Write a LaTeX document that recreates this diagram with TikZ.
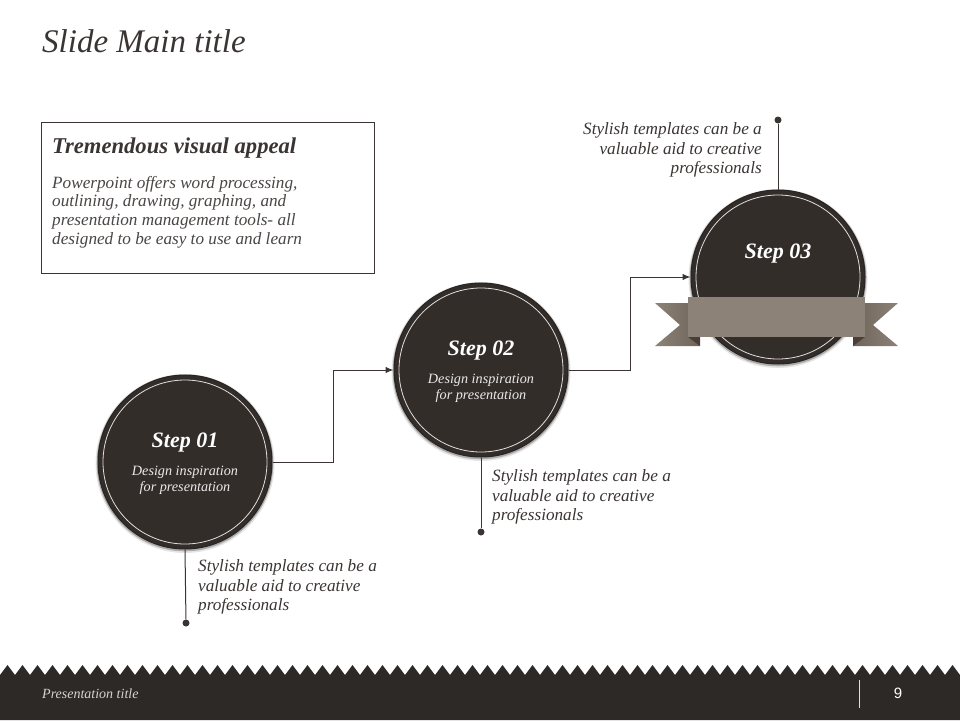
\documentclass[tikz,border=0pt]{standalone}
\usepackage{fontspec}
\setmainfont{Liberation Serif}
\newfontfamily\arialfont{Liberation Sans}
\usetikzlibrary{arrows.meta,calc}
\definecolor{disk}{HTML}{332D2A}
\definecolor{ink}{HTML}{3A3533}
\definecolor{bodyink}{HTML}{4A4644}
\definecolor{ribbon}{HTML}{8C8277}
\definecolor{ribbondark}{HTML}{6E6459}
\definecolor{fold}{HTML}{4A3F38}
\definecolor{footbg}{HTML}{2D2927}
\tikzset{
  disknode/.style={circle, fill=disk, draw=disk!80!black, line width=1pt, minimum size=174pt, inner sep=0pt},
  ring/.style={draw=white!85!disk, line width=0.8pt},
  steptitle/.style={text=white, font=\fontsize{22}{24}\selectfont\bfseries\itshape, inner sep=0pt},
  stepsub/.style={text=white!90!disk, font=\fontsize{14.2}{16}\selectfont\itshape, align=center, inner sep=0pt},
  callout/.style={text=ink, font=\fontsize{17.2}{19.5}\selectfont\itshape, inner sep=0pt},
  conn/.style={draw=ink, line width=1pt},
  arr/.style={conn, -{Latex[length=8pt,width=6.5pt]}},
  dotnode/.style={circle, fill=ink, minimum size=7pt, inner sep=0pt},
}
\begin{document}
\begin{tikzpicture}[x=1pt,y=-1pt]
\useasboundingbox (0,0) rectangle (960,720);
\fill[white] (0,0) rectangle (960,720);

% title
\node[anchor=west, text=ink, font=\fontsize{33}{36}\selectfont\itshape, inner sep=0pt] (title) at (42,41) {Slide Main title};

% text box
\node[draw=ink, line width=0.8pt, minimum width=333pt, minimum height=151pt, anchor=north west, inner sep=0pt] (box) at (41,122) {};
\node[anchor=west, text=ink, font=\fontsize{22.6}{24}\selectfont\bfseries\itshape, inner sep=0pt] (boxhead) at (52,148) {Tremendous visual appeal};
\node[anchor=west, text=bodyink, font=\fontsize{17.2}{18.7}\selectfont\itshape, align=left, inner sep=0pt] (boxbody) at (52,212) {Powerpoint offers word processing,\\outlining, drawing, graphing, and\\presentation management tools- all\\designed to be easy to use and learn};

% shadows
\foreach \cx/\cy in {185/462, 481/370, 778/277}{
  \fill[black, opacity=0.10] (\cx,\cy+1.5) circle (89.5);
  \fill[black, opacity=0.25] (\cx,\cy+1) circle (88.3);
}

% disks
\node[disknode] (s1) at (185,462) {};
\node[disknode] (s2) at (481,370) {};
\node[disknode] (s3) at (778,277) {};
\draw[ring] (s1.center) circle (82);
\draw[ring] (s2.center) circle (82);
\draw[ring] (s3.center) circle (82);

% step labels
\node[steptitle] (t1) at (185,442.5) {Step 01};
\node[stepsub] (u1) at (185,480) {Design inspiration\\for presentation};
\node[steptitle] (t2) at (481,350.5) {Step 02};
\node[stepsub] (u2) at (481,388) {Design inspiration\\for presentation};
\node[steptitle] (t3) at (778,253.5) {Step 03};

% ribbon
\shade[left color=ribbon, right color=ribbondark] (655,303) -- (700,303) -- (700,346) -- (655,346) -- (680,325) -- cycle;
\shade[left color=ribbondark, right color=ribbon] (898,303) -- (853,303) -- (853,346) -- (898,346) -- (873,325) -- cycle;
\fill[fold] (688,337) -- (700,337) -- (700,346) -- cycle;
\fill[fold] (865,337) -- (853,337) -- (853,346) -- cycle;
\node[fill=ribbon, minimum width=177pt, minimum height=40pt, inner sep=0pt, anchor=north west] (rib) at (688,297) {};

% connectors
\coordinate (k1) at (333,462);
\coordinate (k2) at (630,370);
\draw[arr] (s1.east) -- (k1) |- (s2.west);
\draw[arr] (s2.east) -- (k2) |- (s3.west);

% callouts
\node[dotnode] (d1) at (186,623) {};
\node[dotnode] (d2) at (481,532) {};
\node[dotnode] (d3) at (778,120) {};
\draw[conn] (s1.south) -- (d1);
\draw[conn] (s2.south) -- (d2);
\draw[conn] (s3.north) -- (d3);
\node[callout, anchor=west, align=left] (c1) at (198,587) {Stylish templates can be a\\valuable aid to creative\\professionals};
\node[callout, anchor=west, align=left] (c2) at (492,497) {Stylish templates can be a\\valuable aid to creative\\professionals};
\node[callout, anchor=east, align=right] (c3) at (762,150) {Stylish templates can be a\\valuable aid to creative\\professionals};

% footer
\fill[footbg] (0,675)
  \foreach \i in {0,...,63} { -- ({\i*15+7.5},665) -- ({\i*15+15},675) }
  -- (960,720) -- (0,720) -- cycle;
\node[anchor=west, text=white!80!footbg, font=\fontsize{14}{16}\selectfont\itshape, inner sep=0pt] (ft) at (42,694) {Presentation title};
\draw[white!85!footbg, line width=1pt] (859,680) -- (859,708);
\node[text=white, font=\arialfont\fontsize{15}{18}\selectfont, inner sep=0pt] (pg) at (898,693) {9};
\end{tikzpicture}
\end{document}
